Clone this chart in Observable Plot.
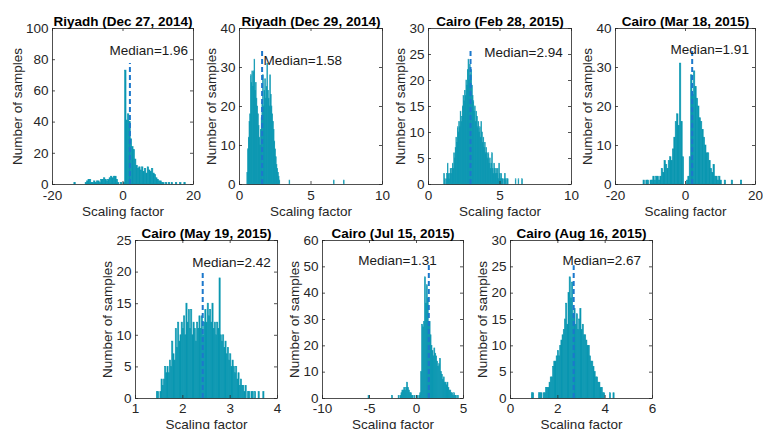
<!DOCTYPE html>
<html><head><meta charset="utf-8">
<script src="https://cdn.jsdelivr.net/npm/d3@7"></script>
<script src="https://cdn.jsdelivr.net/npm/@observablehq/plot@0.6"></script>
<style>
body{margin:0;background:#fff;}
#chart{position:relative;width:763px;height:429px;overflow:hidden;background:#fff;}
#chart svg{position:absolute;left:0;top:0;}
</style></head><body><div id="chart"></div>
<script>
const titles = ["Riyadh (Dec 27, 2014)", "Riyadh (Dec 29, 2014)", "Cairo (Feb 28, 2015)", "Cairo (Mar 18, 2015)", "Cairo (May 19, 2015)", "Cairo (Jul 15, 2015)", "Cairo (Aug 16, 2015)"];
const medians = [1.96, 1.58, 2.94, 1.91, 2.42, 1.31, 2.67];
const medianTops = [77.5, 34.4, 25.8, 34.4, 20, 51.3, 25.2];
const xLabel = "Scaling factor";
const yLabel = "Number of samples";

const xTicks1 = [-20, 0, 20], yTicks1 = [0, 20, 40, 60, 80, 100];
const xTicks2 = [0, 5, 10], yTicks2 = [0, 10, 20, 30, 40];
const xTicks3 = [0, 5, 10], yTicks3 = [0, 5, 10, 15, 20, 25, 30];
const xTicks4 = [-20, 0, 20], yTicks4 = [0, 10, 20, 30, 40];
const xTicks5 = [1, 2, 3, 4], yTicks5 = [0, 5, 10, 15, 20, 25];
const xTicks6 = [-10, -5, 0, 5], yTicks6 = [0, 10, 20, 30, 40, 50, 60];
const xTicks7 = [0, 2, 4, 6], yTicks7 = [0, 5, 10, 15, 20, 25, 30];

// histogram bins: first bin edge, bin width, counts
const p1Start = -13.8, p1Width = 0.4;
const p1Counts = [1,0,0,0,0,0,0,0,1,2,3,3,1,1,2,1,2,2,1,3,3,4,3,2,3,4,5,4,5,5,3,1,0,1,0,1,73,41,45,40,29,24,22,16,12,10,11,9,11,8,10,7,11,9,8,10,7,6,4,3,2,2,1,1,0,1,0,1,0,1,0,0,1,0,0,1,0,0,1];
const p1OutX = [], p1OutN = [];

const p2Start = 0.55, p2Width = 0.05;
const p2Counts = [3,9,12,16,18,28,26,29,25,29,32,24,26,22,20,18,15,12,10,14,17,21,28,20,24,27,22,25,31,24,22,20,28,23,20,18,16,14,11,9,7,5,4,3,2,1];
const p2OutX = [3.5, 6.6, 7.3], p2OutN = [1, 1, 1];

const p3Start = 1.0, p3Width = 0.05;
const p3Counts = [0,0,2,1,0,1,2,4,2,1,2,3,2,3,4,3,6,5,7,9,8,11,10,12,11,14,12,13,15,17,16,18,17,20,19,22,24,20,23,21,22,19,17,16,14,15,12,14,13,11,12,10,11,9,12,10,8,9,7,8,6,7,6,5,6,4,5,3,4,6,3,2,4,3,2,3,2,3,1,4,2,1,2,1,1,0,1,2,1,0,1,1];
const p3OutX = [6.1, 6.3, 6.55], p3OutN = [1, 1, 1];

const p4Start = -12.0, p4Width = 0.4;
const p4Counts = [1,0,1,1,0,1,1,2,1,2,2,1,2,4,3,6,5,4,6,7,6,9,12,16,18,15,31,16,7,0,0,1,2,7,28,23,29,25,22,20,17,16,14,12,10,8,8,6,4,3,5,2,2,1,2,1,0,0,1];
const p4OutX = [13.2, 15.8], p4OutN = [1, 1];

const p5Start = 1.45, p5Width = 0.025;
const p5Counts = [1,1,0,1,3,2,3,5,4,5,4,6,5,9,7,6,11,8,12,9,10,12,11,13,10,15,12,14,11,14,10,12,11,9,12,11,13,11,13,10,12,14,12,15,13,14,12,15,11,12,10,12,11,19,10,9,10,8,9,7,8,6,7,5,6,5,4,5,3,4,2,3,2,2,1,2,0,1,1,0,1,1,0,1];
const p5OutX = [3.6, 3.7], p5OutN = [1, 1];

const p6Start = -2.0, p6Width = 0.1;
const p6Counts = [0,1,0,1,2,3,3,4,3,4,6,4,3,2,2,1,1,0,1,0,0,1,0,1,2,10,28,27,29,46,36,43,38,28,29,24,20,18,16,19,17,16,14,12,13,15,10,9,7,8,6,6,5,6,4,3,3,2,2,1,2,1,1,0,1];
const p6OutX = [-5.1, -2.6], p6OutN = [1, 1];

const p7Start = 0.9, p7Width = 0.05;
const p7Counts = [1,1,0,0,0,0,1,1,1,0,1,1,2,2,2,3,4,4,6,7,7,8,9,8,10,11,12,13,15,18,14,20,23,19,22,16,17,14,16,13,15,17,13,14,12,12,11,10,10,8,7,7,6,5,4,4,3,3,2,2,1,1];
const p7OutX = [4.2, 4.35], p7OutN = [1, 1];

// layout (pixels) - frame [left, right, top, bottom], label offsets
const panels = [
  {start: p1Start, width: p1Width, counts: p1Counts, outX: p1OutX, outN: p1OutN, xd: [-20, 20], yd: [0, 100], xt: xTicks1, yt: yTicks1, frame: [52, 193, 28, 184], med: [-3.8, 86], yl: 35, xl: 27, tp: 6},
  {start: p2Start, width: p2Width, counts: p2Counts, outX: p2OutX, outN: p2OutN, xd: [0, 10], yd: [0, 40], xt: xTicks2, yt: yTicks2, frame: [239, 382, 28, 184], med: [1.68, 31.8], yl: 28, xl: 27, tp: 6},
  {start: p3Start, width: p3Width, counts: p3Counts, outX: p3OutX, outN: p3OutN, xd: [0, 10], yd: [0, 30], xt: xTicks3, yt: yTicks3, frame: [428, 571, 28, 184], med: [3.9, 25.4], yl: 28, xl: 27, tp: 6},
  {start: p4Start, width: p4Width, counts: p4Counts, outX: p4OutX, outN: p4OutN, xd: [-20, 20], yd: [0, 40], xt: xTicks4, yt: yTicks4, frame: [615, 755, 28, 184], med: [-4.3, 34.6], yl: 28, xl: 27, tp: 6},
  {start: p5Start, width: p5Width, counts: p5Counts, outX: p5OutX, outN: p5OutN, xd: [1, 4], yd: [0, 25], xt: xTicks5, yt: yTicks5, frame: [135, 277, 240, 398], med: [2.2, 21.5], yl: 28, xl: 26, tp: 5},
  {start: p6Start, width: p6Width, counts: p6Counts, outX: p6OutX, outN: p6OutN, xd: [-10, 5], yd: [0, 60], xt: xTicks6, yt: yTicks6, frame: [322, 463, 240, 398], med: [-6.2, 52.4], yl: 28, xl: 26, tp: 5},
  {start: p7Start, width: p7Width, counts: p7Counts, outX: p7OutX, outN: p7OutN, xd: [0, 6], yd: [0, 30], xt: xTicks7, yt: yTicks7, frame: [510, 652, 240, 398], med: [2.2, 26.2], yl: 28, xl: 26, tp: 5}
];

const W = 763, H = 429;
const barColor = "#0a97b1";
const medColor = "#1c78cc";
const axisColor = "#262626";
const fs = 13.5;
const font = "'Liberation Sans', Arial, Helvetica, sans-serif";
const chart = document.getElementById("chart");

panels.forEach((p, k) => {
  const bars = p.counts.map((n, i) => ({x1: p.start + i * p.width, x2: p.start + (i + 1) * p.width, n}))
    .filter(d => d.n > 0)
    .concat(p.outX.map((x, i) => ({x1: x, x2: x + p.width, n: p.outN[i]})));
  const [L, R, T, B] = p.frame;
  const fh = B - T, fw = R - L;
  const svg = Plot.plot({
    width: W, height: H,
    marginLeft: L, marginRight: W - R, marginTop: T, marginBottom: H - B,
    x: {domain: p.xd},
    y: {domain: p.yd},
    style: {background: "transparent", fontFamily: font, fontSize: fs + "px", overflow: "visible"},
    marks: [
      Plot.rect(bars, {x1: "x1", x2: "x2", y1: 0, y2: "n", fill: barColor, stroke: barColor, strokeWidth: 0.6}),
      Plot.ruleX([medians[k]], {x: d => d, y1: 0, y2: medianTops[k], stroke: medColor, strokeWidth: 2, strokeDasharray: "5,3"}),
      Plot.frame({stroke: axisColor, strokeWidth: 0.8}),
      Plot.tickX(p.xt, {x: d => d, insetTop: fh - 3, stroke: axisColor, strokeWidth: 0.8}),
      Plot.tickX(p.xt, {x: d => d, insetBottom: fh - 3, stroke: axisColor, strokeWidth: 0.8}),
      Plot.tickY(p.yt, {y: d => d, insetRight: fw - 3, stroke: axisColor, strokeWidth: 0.8}),
      Plot.tickY(p.yt, {y: d => d, insetLeft: fw - 3, stroke: axisColor, strokeWidth: 0.8}),
      Plot.axisX({ticks: p.xt, tickSize: 0, tickPadding: p.tp, tickFormat: d => String(d), label: null, fill: axisColor}),
      Plot.axisY({ticks: p.yt, tickSize: 0, tickPadding: 4, tickFormat: d => String(d), label: null, fill: axisColor}),
      Plot.text([{x: p.med[0], y: p.med[1], t: `Median=${medians[k].toFixed(2)}`}], {x: "x", y: "y", text: "t", textAnchor: "start", fontSize: fs, fill: "#1a1a1a"}),
      Plot.text([titles[k]], {frameAnchor: "top", dy: -7, text: d => d, textAnchor: "middle", lineAnchor: "middle", fontWeight: "bold", fontSize: fs, fill: "#000"}),
      Plot.text([xLabel], {frameAnchor: "bottom", dy: p.xl, text: d => d, textAnchor: "middle", lineAnchor: "middle", fontSize: fs, fill: axisColor}),
      Plot.text([yLabel], {frameAnchor: "left", dx: -p.yl, rotate: -90, text: d => d, textAnchor: "middle", lineAnchor: "middle", fontSize: fs, fill: axisColor})
    ]
  });
  chart.appendChild(svg);
});
</script>
</body></html>
